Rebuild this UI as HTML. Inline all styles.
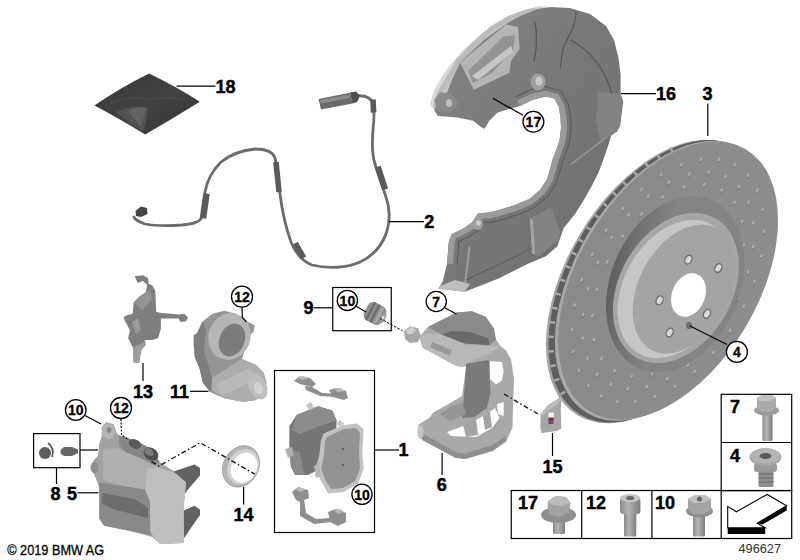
<!DOCTYPE html>
<html><head><meta charset="utf-8">
<style>
html,body{margin:0;padding:0;background:#fff;}
body{width:800px;height:560px;overflow:hidden;}
svg{display:block;}
.lb{font-family:"Liberation Sans",sans-serif;font-weight:bold;font-size:18px;fill:#000;stroke:#000;stroke-width:0.45;}
.cl{font-family:"Liberation Sans",sans-serif;font-weight:bold;font-size:14px;fill:#000;stroke:#000;stroke-width:0.3;}
.ln{stroke:#000;stroke-width:1.2;fill:none;}
.bx{stroke:#000;stroke-width:1.2;fill:none;}
</style></head>
<body>
<svg width="800" height="560" viewBox="0 0 800 560">
<defs>
<linearGradient id="gPack" x1="0" y1="0" x2="1" y2="1">
<stop offset="0" stop-color="#383838"/><stop offset="0.5" stop-color="#424242"/><stop offset="1" stop-color="#343434"/>
</linearGradient>
</defs>
<rect width="800" height="560" fill="#fff"/>

<!-- ===== PART 18 grease pack ===== -->
<g id="p18">
<path d="M94.4,105.6 Q120,88 149,73.6 Q175,86 199.8,101.7 Q172,119 145.2,134.5 Q118,118 94.4,105.6 Z" fill="url(#gPack)"/>
<path d="M116,112 Q133,104 148,108 Q147,122 143,131 Q128,123 116,112 Z" fill="#5a5a5a" opacity="0.75"/>
<path d="M128,110 Q138,106 146,108 Q144,118 141,126 Q134,120 128,110 Z" fill="#6e6e6e" opacity="0.6"/>
<path d="M110,103 Q130,96 150,99 Q170,96 185,100" fill="none" stroke="#4a4a4a" stroke-width="2" opacity="0.8"/>
</g>

<!-- ===== PART 2 wire ===== -->
<g id="p2">
<path d="M356,96 C364,95 370,97 373,103 C375,110 374,120 373,130 C372,142 372,155 375,164 C378,174 382,185 386,197 C390,208 390,220 387,231 C383,244 375,255 360,262 C347,268 328,269 312,265 C302,261 295,252 291,242 C286,228 282,210 280,194 C278,180 277,165 275,158 C273,152 266,149 255,149 C243,150 230,155 221,162 C213,170 207,180 205,192 C203,203 202,212 201,219 C198,223 192,224 182,225 C168,226 155,226 145,224 C139,222 135,220 134,217" fill="none" stroke="#6c6c6c" stroke-width="2.8" stroke-linecap="round"/>
<g fill="#5a5a5a">
<rect x="-2.8" y="-6.5" width="5.6" height="13" transform="translate(373.3 106) rotate(-3)"/>
<rect x="-3" y="-12" width="6" height="24" transform="translate(381.5 178) rotate(-18)"/>
<rect x="-2.8" y="-8.5" width="5.6" height="17" transform="translate(299.5 250.5) rotate(-30)"/>
<rect x="-2.8" y="-15" width="5.6" height="30" transform="translate(277.5 177) rotate(-6)"/>
<rect x="-3" y="-12.5" width="6" height="25" transform="translate(205 206) rotate(8)"/>
</g>
<polygon points="135.5,211 141,206.5 147,208 147.5,214 141,217 136,216" fill="#444"/>
<!-- sensor -->
<polygon points="318.5,99 350,92.8 352.5,103.5 321,109.5" fill="#6a6a6a"/>
<polygon points="320,100 349,94.5 350,98 321,103.5" fill="#8a8a8a"/>
<polygon points="350,92.5 356,91.5 360,96 357,102 352.5,103.5" fill="#4e4e4e"/>
</g>

<!-- ===== PART 16 heat shield ===== -->
<g id="p16">
<defs>
<linearGradient id="gShield" x1="0" y1="0" x2="1" y2="1">
<stop offset="0" stop-color="#858585"/><stop offset="0.5" stop-color="#777"/><stop offset="1" stop-color="#6c6c6c"/>
</linearGradient>
</defs>
<!-- faint film -->
<path d="M430,104 L434,90 L446,70 L462,51 L482,33 L502,20 L520,11 L540,6 L550,7 L530,10 L510,19 L494.3,28.6 L475.7,45.7 L458.6,62.9 L450,78 L441.1,91.8 L436.3,101.5 L434.6,111.1 Z" fill="#dadada"/>
<path d="M433,106 L437,92 L448,74 L456,60 L472,43 L491,26 L508,16 L528,9 L545,6.5 L530,10 L510,19 L494.3,28.6 L475.7,45.7 L458.6,62.9 L450,78 L441.1,91.8 L436.3,101.5 L434.6,111.1 Z" fill="#bcbcbc"/>
<path d="M434.6,111.1 L436.3,101.5 L441.1,91.8 L450,78 L458.6,62.9 L475.7,45.7 L494.3,28.6 L510,19 L530,10 L550,7 L570,8 L590,14 L606,26 L614,40 L618.5,58 L620.6,75 L620.6,93.8 L623.2,101.8 L620.1,125.4 L617.2,131.3 L611.3,135.2 L608.3,145 L604.4,156.8 L598.5,172.6 L591.6,186.3 L583.8,200 L575,214 L563.4,228.4 L557.5,246 L545.8,256.3 L528.1,263.7 L498.6,278.4 L464.8,291.7 L438.3,288.7 L442.7,281.4 L447.1,263.7 L448.6,243.1 L451.5,234.3 L463.3,228.4 L472.1,222.5 L478,213.6 L490,212.3 L500.7,209.6 L516.8,204.3 L529.3,198.9 L540,190 L547.1,179.3 L550.7,166.8 L552.5,159.6 L556,150.7 L559.6,140 L561,128 L560.5,118 L559,107.2 L554.3,98.6 L545.7,96.5 L532.9,99.7 L520,106 L507,109.5 L497.4,112.7 L489.3,120.8 L484.5,128.8 L481.3,127.2 L473.2,120.8 L457.2,117.5 L437.9,115.9 Z" fill="url(#gShield)"/>
<!-- raised block upper-left -->
<path d="M436,104 L441,92 L450,78 L458.6,62.9 L475.7,45.7 L494.3,28.6 L510,19 L530,10 L540,8 L520,16 L506,24 L484,40 L460,62.6 L452,80 L445,98 Z" fill="#c2c2c2"/>
<path d="M460,62.6 L506,24.4 L518,27 L519.6,49 L511,61 L509.4,72.8 L473.8,89.8 Z" fill="#b4b4b4"/>
<path d="M468,71 L503,37 L515,35 L513,50 L492,73 L473,83 Z" fill="#939393"/>
<path d="M472,76 L511,46 L513,52 L478,80 Z" fill="#c6c6c6"/>
<!-- left nub -->
<path d="M434.3,100 L440,92 L452,94 L458,104 L452,111 L438,112 Z" fill="#8a8a8a"/>
<ellipse cx="449" cy="103" rx="3" ry="4" fill="#bdbdbd"/>
<!-- inner flange strip -->
<polygon points="447.1,263.7 448.6,243.1 451.5,234.3 463.3,228.4 472.1,222.5 478.0,213.6 490.0,212.3 500.7,209.6 516.8,204.3 529.3,198.9 540.0,190.0 547.1,179.3 550.7,166.8 552.5,159.6 556.0,150.7 559.6,140.0 561.0,128.0 560.5,118.0 559.0,107.2 554.3,98.6 545.7,96.5 532.9,99.7 520.0,106.0 517.4,100.6 530.8,94.1 545.4,90.5 558.1,93.9 564.7,105.4 566.5,117.4 567.0,128.2 565.5,141.3 561.6,152.7 558.2,161.5 556.5,168.4 552.5,181.8 544.4,194.0 532.4,204.0 518.9,209.9 502.4,215.3 491.0,218.2 481.0,218.8 476.4,226.7 466.3,233.6 455.7,238.5 454.5,244.0 453.1,264.1" fill="#9a9a9a"/>
<polyline points="457.1,264.4 458.5,244.6 458.6,241.4 468.3,237.1 479.2,229.5 483.0,222.3 491.7,222.1 503.6,219.2 520.3,213.7 534.5,207.4 547.4,196.7 556.2,183.5 560.3,169.4 562.0,162.7 565.4,154.1 569.4,142.2 571.0,128.4 570.5,117.0 568.5,104.2 560.6,90.8 545.2,86.5 529.4,90.3 515.6,97.0" fill="none" stroke="#5a5a5a" stroke-width="1.1"/>
<!-- dark separation lines -->
<path d="M535,22 C538,40 536,50 534,62" fill="none" stroke="#555" stroke-width="1.2"/>
<path d="M576,12 C575,30 568,36 564,46 C560,56 562,64 560,68" fill="none" stroke="#555" stroke-width="1.2"/>
<path d="M570,40 C590,50 606,70 612,95" fill="none" stroke="#555" stroke-width="1.1"/>
<!-- right step -->
<path d="M598,92 L620.1,93.9 L622.1,101.8 L620.1,125.4 L617.2,131.3 L611.3,135.2 L600,140 L596,120 Z" fill="#838383"/>
<path d="M570,165 L607,137" stroke="#9a9a9a" stroke-width="1.5" fill="none"/>
<!-- bottom lobe -->
<path d="M529.8,218.8 L550.7,207.1 L560,230.4 L558.8,239.7 L539.1,255.9 L532.2,253.6 Z" fill="#838383"/>
<path d="M529.8,218.8 L532.2,253.6 L535,254.5 L533,220 Z" fill="#a4a4a4"/>
<path d="M469.5,246.6 L464.8,286" fill="none" stroke="#9e9e9e" stroke-width="2"/>
<path d="M466,280 C490,268 515,258 532,248" fill="none" stroke="#5a5a5a" stroke-width="1"/>
<path d="M440,286 L455,280 L470,284 L464.8,291.7 L438.3,288.7 Z" fill="#bdbdbd"/>
<!-- bolt bosses -->
<ellipse cx="538" cy="82" rx="7.5" ry="8.5" fill="#a0a0a0"/>
<ellipse cx="539" cy="81" rx="3.5" ry="4.5" fill="#c8c8c8"/>
<ellipse cx="478" cy="224" rx="5" ry="6" fill="#a0a0a0"/>
<ellipse cx="478.5" cy="223" rx="2.2" ry="2.8" fill="#cfcfcf"/>
</g>

<!-- ===== PART 3 rotor ===== -->
<g id="p3">
<defs>
<radialGradient id="gHat" cx="0.55" cy="0.55" r="0.6">
<stop offset="0" stop-color="#a6a6a6"/><stop offset="0.8" stop-color="#a2a2a2"/><stop offset="1" stop-color="#b0b0b0"/>
</radialGradient>
<linearGradient id="gGroove" gradientUnits="userSpaceOnUse" x1="603" y1="290" x2="660" y2="300">
<stop offset="0" stop-color="#5c5c5c"/><stop offset="0.45" stop-color="#727272"/><stop offset="1" stop-color="#848484"/>
</linearGradient>
<linearGradient id="gFace" x1="0" y1="0" x2="1" y2="1">
<stop offset="0" stop-color="#8a8a8a"/><stop offset="1" stop-color="#8e8e8e"/>
</linearGradient>
</defs>
<!-- back/rim -->
<ellipse cx="657.1" cy="281.5" rx="155.8" ry="90.6" transform="rotate(-59.4 657.1 281.5)" fill="#a4a4a4"/>
<ellipse cx="659.3" cy="281.3" rx="155.1" ry="90.4" transform="rotate(-59.4 659.3 281.3)" fill="#5e5e5e"/>
<g stroke="#a8a8a8" stroke-width="2.5"><line x1="560.7" y1="394.3" x2="565.2" y2="391.7"/><line x1="554.4" y1="380.6" x2="559.3" y2="378.9"/><line x1="550.6" y1="366.2" x2="555.7" y2="365.3"/><line x1="548.8" y1="351.4" x2="554.0" y2="351.1"/><line x1="548.7" y1="336.7" x2="553.9" y2="336.9"/><line x1="550.0" y1="322.1" x2="555.2" y2="322.8"/><line x1="552.4" y1="307.6" x2="557.5" y2="308.7"/><line x1="555.9" y1="293.5" x2="560.9" y2="294.9"/><line x1="560.3" y1="279.5" x2="565.2" y2="281.2"/><line x1="565.6" y1="265.8" x2="570.4" y2="267.8"/><line x1="571.7" y1="252.3" x2="576.4" y2="254.6"/><line x1="578.5" y1="239.3" x2="583.0" y2="241.9"/><line x1="586.0" y1="226.7" x2="590.4" y2="229.5"/><line x1="594.2" y1="214.5" x2="598.4" y2="217.6"/><line x1="603.0" y1="203.0" x2="607.0" y2="206.2"/><line x1="612.4" y1="191.9" x2="616.3" y2="195.4"/><line x1="622.6" y1="181.3" x2="626.2" y2="185.1"/><line x1="633.6" y1="171.4" x2="637.0" y2="175.3"/><line x1="645.1" y1="162.4" x2="648.2" y2="166.6"/><line x1="657.3" y1="154.4" x2="660.0" y2="158.9"/><line x1="670.5" y1="147.4" x2="672.7" y2="152.2"/></g>
<ellipse cx="665.2" cy="280.8" rx="153.6" ry="90.4" transform="rotate(-59.4 665.2 280.8)" fill="#a9a9a9"/>
<!-- face -->
<ellipse cx="668.1" cy="280.5" rx="152.6" ry="90.4" transform="rotate(-59.4 668.1 280.5)" fill="url(#gFace)"/>
<g id="perf"><ellipse cx="722.3" cy="190.8" rx="1.5" ry="2.3" transform="rotate(30 721.7 189.9)" fill="#7e7e7e"/><ellipse cx="721.7" cy="189.9" rx="1.2" ry="2" transform="rotate(30 721.7 189.9)" fill="#adadad"/><ellipse cx="735.3" cy="203.4" rx="1.5" ry="2.3" transform="rotate(30 734.7 202.5)" fill="#7e7e7e"/><ellipse cx="734.7" cy="202.5" rx="1.2" ry="2" transform="rotate(30 734.7 202.5)" fill="#adadad"/><ellipse cx="742.8" cy="222.3" rx="1.5" ry="2.3" transform="rotate(30 742.2 221.4)" fill="#7e7e7e"/><ellipse cx="742.2" cy="221.4" rx="1.2" ry="2" transform="rotate(30 742.2 221.4)" fill="#adadad"/><ellipse cx="744.4" cy="246.0" rx="1.5" ry="2.3" transform="rotate(30 743.8 245.1)" fill="#7e7e7e"/><ellipse cx="743.8" cy="245.1" rx="1.2" ry="2" transform="rotate(30 743.8 245.1)" fill="#adadad"/><ellipse cx="739.8" cy="272.6" rx="1.5" ry="2.3" transform="rotate(30 739.2 271.7)" fill="#7e7e7e"/><ellipse cx="739.2" cy="271.7" rx="1.2" ry="2" transform="rotate(30 739.2 271.7)" fill="#adadad"/><ellipse cx="729.5" cy="299.9" rx="1.5" ry="2.3" transform="rotate(30 728.9 299.0)" fill="#7e7e7e"/><ellipse cx="728.9" cy="299.0" rx="1.2" ry="2" transform="rotate(30 728.9 299.0)" fill="#adadad"/><ellipse cx="714.2" cy="325.7" rx="1.5" ry="2.3" transform="rotate(30 713.6 324.8)" fill="#7e7e7e"/><ellipse cx="713.6" cy="324.8" rx="1.2" ry="2" transform="rotate(30 713.6 324.8)" fill="#adadad"/><ellipse cx="695.3" cy="347.9" rx="1.5" ry="2.3" transform="rotate(30 694.7 347.0)" fill="#7e7e7e"/><ellipse cx="694.7" cy="347.0" rx="1.2" ry="2" transform="rotate(30 694.7 347.0)" fill="#adadad"/><ellipse cx="674.2" cy="364.7" rx="1.5" ry="2.3" transform="rotate(30 673.6 363.8)" fill="#7e7e7e"/><ellipse cx="673.6" cy="363.8" rx="1.2" ry="2" transform="rotate(30 673.6 363.8)" fill="#adadad"/><ellipse cx="652.6" cy="374.8" rx="1.5" ry="2.3" transform="rotate(30 652.0 373.9)" fill="#7e7e7e"/><ellipse cx="652.0" cy="373.9" rx="1.2" ry="2" transform="rotate(30 652.0 373.9)" fill="#adadad"/><ellipse cx="632.4" cy="377.3" rx="1.5" ry="2.3" transform="rotate(30 631.8 376.4)" fill="#7e7e7e"/><ellipse cx="631.8" cy="376.4" rx="1.2" ry="2" transform="rotate(30 631.8 376.4)" fill="#adadad"/><ellipse cx="615.1" cy="372.0" rx="1.5" ry="2.3" transform="rotate(30 614.5 371.1)" fill="#7e7e7e"/><ellipse cx="614.5" cy="371.1" rx="1.2" ry="2" transform="rotate(30 614.5 371.1)" fill="#adadad"/><ellipse cx="602.1" cy="359.4" rx="1.5" ry="2.3" transform="rotate(30 601.5 358.5)" fill="#7e7e7e"/><ellipse cx="601.5" cy="358.5" rx="1.2" ry="2" transform="rotate(30 601.5 358.5)" fill="#adadad"/><ellipse cx="594.6" cy="340.5" rx="1.5" ry="2.3" transform="rotate(30 594.0 339.6)" fill="#7e7e7e"/><ellipse cx="594.0" cy="339.6" rx="1.2" ry="2" transform="rotate(30 594.0 339.6)" fill="#adadad"/><ellipse cx="593.0" cy="316.8" rx="1.5" ry="2.3" transform="rotate(30 592.4 315.9)" fill="#7e7e7e"/><ellipse cx="592.4" cy="315.9" rx="1.2" ry="2" transform="rotate(30 592.4 315.9)" fill="#adadad"/><ellipse cx="597.6" cy="290.2" rx="1.5" ry="2.3" transform="rotate(30 597.0 289.3)" fill="#7e7e7e"/><ellipse cx="597.0" cy="289.3" rx="1.2" ry="2" transform="rotate(30 597.0 289.3)" fill="#adadad"/><ellipse cx="607.9" cy="262.9" rx="1.5" ry="2.3" transform="rotate(30 607.3 262.0)" fill="#7e7e7e"/><ellipse cx="607.3" cy="262.0" rx="1.2" ry="2" transform="rotate(30 607.3 262.0)" fill="#adadad"/><ellipse cx="623.2" cy="237.1" rx="1.5" ry="2.3" transform="rotate(30 622.6 236.2)" fill="#7e7e7e"/><ellipse cx="622.6" cy="236.2" rx="1.2" ry="2" transform="rotate(30 622.6 236.2)" fill="#adadad"/><ellipse cx="642.1" cy="214.9" rx="1.5" ry="2.3" transform="rotate(30 641.5 214.0)" fill="#7e7e7e"/><ellipse cx="641.5" cy="214.0" rx="1.2" ry="2" transform="rotate(30 641.5 214.0)" fill="#adadad"/><ellipse cx="663.2" cy="198.1" rx="1.5" ry="2.3" transform="rotate(30 662.6 197.2)" fill="#7e7e7e"/><ellipse cx="662.6" cy="197.2" rx="1.2" ry="2" transform="rotate(30 662.6 197.2)" fill="#adadad"/><ellipse cx="684.8" cy="188.0" rx="1.5" ry="2.3" transform="rotate(30 684.2 187.1)" fill="#7e7e7e"/><ellipse cx="684.2" cy="187.1" rx="1.2" ry="2" transform="rotate(30 684.2 187.1)" fill="#adadad"/><ellipse cx="705.0" cy="185.5" rx="1.5" ry="2.3" transform="rotate(30 704.4 184.6)" fill="#7e7e7e"/><ellipse cx="704.4" cy="184.6" rx="1.2" ry="2" transform="rotate(30 704.4 184.6)" fill="#adadad"/><ellipse cx="739.7" cy="187.6" rx="1.5" ry="2.3" transform="rotate(30 739.1 186.7)" fill="#7e7e7e"/><ellipse cx="739.1" cy="186.7" rx="1.2" ry="2" transform="rotate(30 739.1 186.7)" fill="#adadad"/><ellipse cx="749.1" cy="203.4" rx="1.5" ry="2.3" transform="rotate(30 748.5 202.5)" fill="#7e7e7e"/><ellipse cx="748.5" cy="202.5" rx="1.2" ry="2" transform="rotate(30 748.5 202.5)" fill="#adadad"/><ellipse cx="753.9" cy="223.8" rx="1.5" ry="2.3" transform="rotate(30 753.3 222.9)" fill="#7e7e7e"/><ellipse cx="753.3" cy="222.9" rx="1.2" ry="2" transform="rotate(30 753.3 222.9)" fill="#adadad"/><ellipse cx="753.7" cy="247.5" rx="1.5" ry="2.3" transform="rotate(30 753.1 246.6)" fill="#7e7e7e"/><ellipse cx="753.1" cy="246.6" rx="1.2" ry="2" transform="rotate(30 753.1 246.6)" fill="#adadad"/><ellipse cx="748.6" cy="273.1" rx="1.5" ry="2.3" transform="rotate(30 748.0 272.2)" fill="#7e7e7e"/><ellipse cx="748.0" cy="272.2" rx="1.2" ry="2" transform="rotate(30 748.0 272.2)" fill="#adadad"/><ellipse cx="738.9" cy="299.3" rx="1.5" ry="2.3" transform="rotate(30 738.3 298.4)" fill="#7e7e7e"/><ellipse cx="738.3" cy="298.4" rx="1.2" ry="2" transform="rotate(30 738.3 298.4)" fill="#adadad"/><ellipse cx="725.0" cy="324.4" rx="1.5" ry="2.3" transform="rotate(30 724.4 323.5)" fill="#7e7e7e"/><ellipse cx="724.4" cy="323.5" rx="1.2" ry="2" transform="rotate(30 724.4 323.5)" fill="#adadad"/><ellipse cx="707.9" cy="347.0" rx="1.5" ry="2.3" transform="rotate(30 707.3 346.1)" fill="#7e7e7e"/><ellipse cx="707.3" cy="346.1" rx="1.2" ry="2" transform="rotate(30 707.3 346.1)" fill="#adadad"/><ellipse cx="688.5" cy="365.8" rx="1.5" ry="2.3" transform="rotate(30 687.9 364.9)" fill="#7e7e7e"/><ellipse cx="687.9" cy="364.9" rx="1.2" ry="2" transform="rotate(30 687.9 364.9)" fill="#adadad"/><ellipse cx="668.0" cy="379.7" rx="1.5" ry="2.3" transform="rotate(30 667.4 378.8)" fill="#7e7e7e"/><ellipse cx="667.4" cy="378.8" rx="1.2" ry="2" transform="rotate(30 667.4 378.8)" fill="#adadad"/><ellipse cx="647.4" cy="387.9" rx="1.5" ry="2.3" transform="rotate(30 646.8 387.0)" fill="#7e7e7e"/><ellipse cx="646.8" cy="387.0" rx="1.2" ry="2" transform="rotate(30 646.8 387.0)" fill="#adadad"/><ellipse cx="628.2" cy="389.9" rx="1.5" ry="2.3" transform="rotate(30 627.6 389.0)" fill="#7e7e7e"/><ellipse cx="627.6" cy="389.0" rx="1.2" ry="2" transform="rotate(30 627.6 389.0)" fill="#adadad"/><ellipse cx="611.3" cy="385.5" rx="1.5" ry="2.3" transform="rotate(30 610.7 384.6)" fill="#7e7e7e"/><ellipse cx="610.7" cy="384.6" rx="1.2" ry="2" transform="rotate(30 610.7 384.6)" fill="#adadad"/><ellipse cx="597.7" cy="375.2" rx="1.5" ry="2.3" transform="rotate(30 597.1 374.3)" fill="#7e7e7e"/><ellipse cx="597.1" cy="374.3" rx="1.2" ry="2" transform="rotate(30 597.1 374.3)" fill="#adadad"/><ellipse cx="588.3" cy="359.4" rx="1.5" ry="2.3" transform="rotate(30 587.7 358.5)" fill="#7e7e7e"/><ellipse cx="587.7" cy="358.5" rx="1.2" ry="2" transform="rotate(30 587.7 358.5)" fill="#adadad"/><ellipse cx="583.5" cy="339.0" rx="1.5" ry="2.3" transform="rotate(30 582.9 338.1)" fill="#7e7e7e"/><ellipse cx="582.9" cy="338.1" rx="1.2" ry="2" transform="rotate(30 582.9 338.1)" fill="#adadad"/><ellipse cx="583.7" cy="315.3" rx="1.5" ry="2.3" transform="rotate(30 583.1 314.4)" fill="#7e7e7e"/><ellipse cx="583.1" cy="314.4" rx="1.2" ry="2" transform="rotate(30 583.1 314.4)" fill="#adadad"/><ellipse cx="588.8" cy="289.7" rx="1.5" ry="2.3" transform="rotate(30 588.2 288.8)" fill="#7e7e7e"/><ellipse cx="588.2" cy="288.8" rx="1.2" ry="2" transform="rotate(30 588.2 288.8)" fill="#adadad"/><ellipse cx="598.5" cy="263.5" rx="1.5" ry="2.3" transform="rotate(30 597.9 262.6)" fill="#7e7e7e"/><ellipse cx="597.9" cy="262.6" rx="1.2" ry="2" transform="rotate(30 597.9 262.6)" fill="#adadad"/><ellipse cx="612.4" cy="238.4" rx="1.5" ry="2.3" transform="rotate(30 611.8 237.5)" fill="#7e7e7e"/><ellipse cx="611.8" cy="237.5" rx="1.2" ry="2" transform="rotate(30 611.8 237.5)" fill="#adadad"/><ellipse cx="629.5" cy="215.8" rx="1.5" ry="2.3" transform="rotate(30 628.9 214.9)" fill="#7e7e7e"/><ellipse cx="628.9" cy="214.9" rx="1.2" ry="2" transform="rotate(30 628.9 214.9)" fill="#adadad"/><ellipse cx="648.9" cy="197.0" rx="1.5" ry="2.3" transform="rotate(30 648.3 196.1)" fill="#7e7e7e"/><ellipse cx="648.3" cy="196.1" rx="1.2" ry="2" transform="rotate(30 648.3 196.1)" fill="#adadad"/><ellipse cx="669.4" cy="183.1" rx="1.5" ry="2.3" transform="rotate(30 668.8 182.2)" fill="#7e7e7e"/><ellipse cx="668.8" cy="182.2" rx="1.2" ry="2" transform="rotate(30 668.8 182.2)" fill="#adadad"/><ellipse cx="690.0" cy="174.9" rx="1.5" ry="2.3" transform="rotate(30 689.4 174.0)" fill="#7e7e7e"/><ellipse cx="689.4" cy="174.0" rx="1.2" ry="2" transform="rotate(30 689.4 174.0)" fill="#adadad"/><ellipse cx="709.2" cy="172.9" rx="1.5" ry="2.3" transform="rotate(30 708.6 172.0)" fill="#7e7e7e"/><ellipse cx="708.6" cy="172.0" rx="1.2" ry="2" transform="rotate(30 708.6 172.0)" fill="#adadad"/><ellipse cx="726.1" cy="177.3" rx="1.5" ry="2.3" transform="rotate(30 725.5 176.4)" fill="#7e7e7e"/><ellipse cx="725.5" cy="176.4" rx="1.2" ry="2" transform="rotate(30 725.5 176.4)" fill="#adadad"/><ellipse cx="748.4" cy="176.3" rx="1.5" ry="2.3" transform="rotate(30 747.8 175.4)" fill="#7e7e7e"/><ellipse cx="747.8" cy="175.4" rx="1.2" ry="2" transform="rotate(30 747.8 175.4)" fill="#adadad"/><ellipse cx="757.9" cy="191.4" rx="1.5" ry="2.3" transform="rotate(30 757.3 190.5)" fill="#7e7e7e"/><ellipse cx="757.3" cy="190.5" rx="1.2" ry="2" transform="rotate(30 757.3 190.5)" fill="#adadad"/><ellipse cx="763.4" cy="210.4" rx="1.5" ry="2.3" transform="rotate(30 762.8 209.5)" fill="#7e7e7e"/><ellipse cx="762.8" cy="209.5" rx="1.2" ry="2" transform="rotate(30 762.8 209.5)" fill="#adadad"/><ellipse cx="764.8" cy="232.5" rx="1.5" ry="2.3" transform="rotate(30 764.2 231.6)" fill="#7e7e7e"/><ellipse cx="764.2" cy="231.6" rx="1.2" ry="2" transform="rotate(30 764.2 231.6)" fill="#adadad"/><ellipse cx="762.1" cy="256.8" rx="1.5" ry="2.3" transform="rotate(30 761.5 255.9)" fill="#7e7e7e"/><ellipse cx="761.5" cy="255.9" rx="1.2" ry="2" transform="rotate(30 761.5 255.9)" fill="#adadad"/><ellipse cx="755.2" cy="282.1" rx="1.5" ry="2.3" transform="rotate(30 754.6 281.2)" fill="#7e7e7e"/><ellipse cx="754.6" cy="281.2" rx="1.2" ry="2" transform="rotate(30 754.6 281.2)" fill="#adadad"/><ellipse cx="744.5" cy="307.4" rx="1.5" ry="2.3" transform="rotate(30 743.9 306.5)" fill="#7e7e7e"/><ellipse cx="743.9" cy="306.5" rx="1.2" ry="2" transform="rotate(30 743.9 306.5)" fill="#adadad"/><ellipse cx="730.6" cy="331.6" rx="1.5" ry="2.3" transform="rotate(30 730.0 330.7)" fill="#7e7e7e"/><ellipse cx="730.0" cy="330.7" rx="1.2" ry="2" transform="rotate(30 730.0 330.7)" fill="#adadad"/><ellipse cx="713.9" cy="353.5" rx="1.5" ry="2.3" transform="rotate(30 713.3 352.6)" fill="#7e7e7e"/><ellipse cx="713.3" cy="352.6" rx="1.2" ry="2" transform="rotate(30 713.3 352.6)" fill="#adadad"/><ellipse cx="695.3" cy="372.4" rx="1.5" ry="2.3" transform="rotate(30 694.7 371.5)" fill="#7e7e7e"/><ellipse cx="694.7" cy="371.5" rx="1.2" ry="2" transform="rotate(30 694.7 371.5)" fill="#adadad"/><ellipse cx="675.5" cy="387.2" rx="1.5" ry="2.3" transform="rotate(30 674.9 386.3)" fill="#7e7e7e"/><ellipse cx="674.9" cy="386.3" rx="1.2" ry="2" transform="rotate(30 674.9 386.3)" fill="#adadad"/><ellipse cx="655.4" cy="397.4" rx="1.5" ry="2.3" transform="rotate(30 654.8 396.5)" fill="#7e7e7e"/><ellipse cx="654.8" cy="396.5" rx="1.2" ry="2" transform="rotate(30 654.8 396.5)" fill="#adadad"/><ellipse cx="635.8" cy="402.6" rx="1.5" ry="2.3" transform="rotate(30 635.2 401.7)" fill="#7e7e7e"/><ellipse cx="635.2" cy="401.7" rx="1.2" ry="2" transform="rotate(30 635.2 401.7)" fill="#adadad"/><ellipse cx="617.8" cy="402.4" rx="1.5" ry="2.3" transform="rotate(30 617.2 401.5)" fill="#7e7e7e"/><ellipse cx="617.2" cy="401.5" rx="1.2" ry="2" transform="rotate(30 617.2 401.5)" fill="#adadad"/><ellipse cx="601.9" cy="397.0" rx="1.5" ry="2.3" transform="rotate(30 601.3 396.1)" fill="#7e7e7e"/><ellipse cx="601.3" cy="396.1" rx="1.2" ry="2" transform="rotate(30 601.3 396.1)" fill="#adadad"/><ellipse cx="589.0" cy="386.5" rx="1.5" ry="2.3" transform="rotate(30 588.4 385.6)" fill="#7e7e7e"/><ellipse cx="588.4" cy="385.6" rx="1.2" ry="2" transform="rotate(30 588.4 385.6)" fill="#adadad"/><ellipse cx="579.5" cy="371.4" rx="1.5" ry="2.3" transform="rotate(30 578.9 370.5)" fill="#7e7e7e"/><ellipse cx="578.9" cy="370.5" rx="1.2" ry="2" transform="rotate(30 578.9 370.5)" fill="#adadad"/><ellipse cx="574.0" cy="352.4" rx="1.5" ry="2.3" transform="rotate(30 573.4 351.5)" fill="#7e7e7e"/><ellipse cx="573.4" cy="351.5" rx="1.2" ry="2" transform="rotate(30 573.4 351.5)" fill="#adadad"/><ellipse cx="572.6" cy="330.3" rx="1.5" ry="2.3" transform="rotate(30 572.0 329.4)" fill="#7e7e7e"/><ellipse cx="572.0" cy="329.4" rx="1.2" ry="2" transform="rotate(30 572.0 329.4)" fill="#adadad"/><ellipse cx="575.3" cy="306.0" rx="1.5" ry="2.3" transform="rotate(30 574.7 305.1)" fill="#7e7e7e"/><ellipse cx="574.7" cy="305.1" rx="1.2" ry="2" transform="rotate(30 574.7 305.1)" fill="#adadad"/><ellipse cx="582.2" cy="280.7" rx="1.5" ry="2.3" transform="rotate(30 581.6 279.8)" fill="#7e7e7e"/><ellipse cx="581.6" cy="279.8" rx="1.2" ry="2" transform="rotate(30 581.6 279.8)" fill="#adadad"/><ellipse cx="592.9" cy="255.4" rx="1.5" ry="2.3" transform="rotate(30 592.3 254.5)" fill="#7e7e7e"/><ellipse cx="592.3" cy="254.5" rx="1.2" ry="2" transform="rotate(30 592.3 254.5)" fill="#adadad"/><ellipse cx="606.8" cy="231.2" rx="1.5" ry="2.3" transform="rotate(30 606.2 230.3)" fill="#7e7e7e"/><ellipse cx="606.2" cy="230.3" rx="1.2" ry="2" transform="rotate(30 606.2 230.3)" fill="#adadad"/><ellipse cx="623.5" cy="209.3" rx="1.5" ry="2.3" transform="rotate(30 622.9 208.4)" fill="#7e7e7e"/><ellipse cx="622.9" cy="208.4" rx="1.2" ry="2" transform="rotate(30 622.9 208.4)" fill="#adadad"/><ellipse cx="642.1" cy="190.4" rx="1.5" ry="2.3" transform="rotate(30 641.5 189.5)" fill="#7e7e7e"/><ellipse cx="641.5" cy="189.5" rx="1.2" ry="2" transform="rotate(30 641.5 189.5)" fill="#adadad"/><ellipse cx="661.9" cy="175.6" rx="1.5" ry="2.3" transform="rotate(30 661.3 174.7)" fill="#7e7e7e"/><ellipse cx="661.3" cy="174.7" rx="1.2" ry="2" transform="rotate(30 661.3 174.7)" fill="#adadad"/><ellipse cx="682.0" cy="165.4" rx="1.5" ry="2.3" transform="rotate(30 681.4 164.5)" fill="#7e7e7e"/><ellipse cx="681.4" cy="164.5" rx="1.2" ry="2" transform="rotate(30 681.4 164.5)" fill="#adadad"/><ellipse cx="701.6" cy="160.2" rx="1.5" ry="2.3" transform="rotate(30 701.0 159.3)" fill="#7e7e7e"/><ellipse cx="701.0" cy="159.3" rx="1.2" ry="2" transform="rotate(30 701.0 159.3)" fill="#adadad"/><ellipse cx="719.6" cy="160.4" rx="1.5" ry="2.3" transform="rotate(30 719.0 159.5)" fill="#7e7e7e"/><ellipse cx="719.0" cy="159.5" rx="1.2" ry="2" transform="rotate(30 719.0 159.5)" fill="#adadad"/><ellipse cx="735.5" cy="165.8" rx="1.5" ry="2.3" transform="rotate(30 734.9 164.9)" fill="#7e7e7e"/><ellipse cx="734.9" cy="164.9" rx="1.2" ry="2" transform="rotate(30 734.9 164.9)" fill="#adadad"/></g>
<!-- groove ring -->
<path d="M711.1,199.9 L716.2,202.5 L720.9,205.6 L725.2,209.3 L729.2,213.7 L732.8,218.5 L735.9,223.8 L738.6,229.7 L740.7,235.9 L742.4,242.5 L743.6,249.4 L744.3,256.5 L744.4,263.9 L744.0,271.5 L743.1,279.1 L741.6,286.8 L739.7,294.4 L737.3,302.0 L734.3,309.4 L731.0,316.7 L727.2,323.7 L723.0,330.4 L718.5,336.7 L713.6,342.7 L708.5,348.2 L703.0,353.2 L697.4,357.7 L691.6,361.6 L685.7,365.0 L679.7,367.7 L673.6,369.8 L667.6,371.2 L661.7,372.0 L655.8,372.1 L650.1,371.6 L644.6,370.3 L639.3,368.5 L634.2,365.9 L629.5,362.8 L625.2,359.1 L621.2,354.7 L617.6,349.9 L614.5,344.6 L611.8,338.7 L609.7,332.5 L608.0,325.9 L606.8,319.0 L606.1,311.9 L606.0,304.5 L606.4,296.9 L607.3,289.3 L608.8,281.6 L610.7,274.0 L613.1,266.4 L616.1,259.0 L619.4,251.7 L623.2,244.7 L627.4,238.0 L631.9,231.7 L636.8,225.7 L641.9,220.2 L647.4,215.2 L653.0,210.7 L658.8,206.8 L664.7,203.4 L670.7,200.7 L676.8,198.6 L682.8,197.2 L688.7,196.4 L694.6,196.3 L700.3,196.8 L705.8,198.1Z" fill="url(#gGroove)"/>
<!-- hat -->
<ellipse cx="675.9" cy="288" rx="80.1" ry="56.4" transform="rotate(-60.5 675.9 288)" fill="#a6a6a6"/>
<ellipse cx="675" cy="289" rx="74" ry="51" transform="rotate(-60.5 675 289)" fill="#c6c6c6"/>
<ellipse cx="684" cy="289" rx="69" ry="45" transform="rotate(-62 684 289)" fill="#a4a4a4"/>
<!-- center hole -->
<ellipse cx="688.5" cy="295" rx="22.5" ry="16.5" transform="rotate(-68 688.5 295)" fill="#fff"/>
<g fill="#d8d8d8" stroke="#6a6a6a" stroke-width="1.3">
<ellipse cx="688.4" cy="259.6" rx="3.3" ry="4.6" transform="rotate(25 688.4 259.6)"/>
<ellipse cx="718.3" cy="268" rx="3.3" ry="4.6" transform="rotate(25 718.3 268)"/>
<ellipse cx="659.6" cy="300.3" rx="3.3" ry="4.6" transform="rotate(25 659.6 300.3)"/>
<ellipse cx="707" cy="313.9" rx="3.3" ry="4.6" transform="rotate(25 707 313.9)"/>
<ellipse cx="669.7" cy="332.5" rx="3.3" ry="4.6" transform="rotate(25 669.7 332.5)"/>
</g>
<ellipse cx="689" cy="325.5" rx="3" ry="3.6" fill="#6a6a6a"/>
</g>

<!-- ===== PART 5 caliper ===== -->
<g id="p5">
<!-- fingers (dark) -->
<polygon points="172,472 194.4,464.4 200,468.1 200,475.6 186.9,490.7 183.2,496.3" fill="#626262"/>
<polygon points="182.2,511.3 194.4,505.7 200,509.4 200,515 190.7,528.2 183.2,539.4" fill="#626262"/>
<!-- body silhouette -->
<path d="M101.7,426.9 L106.5,422 L113.8,424.5 L116.2,431.7 L118.6,435.3 L137.9,441.4 L152.4,449.8 L159.6,461.9 L174.1,471.5 L186.1,482.4 L183.7,506.5 L184,543 L160,544 L152.4,537 L128.2,530.6 L104.1,525.8 L99.3,518.5 L99.3,487.2 L94.5,475.1 L90.9,467.9 L93.3,460.7 L98.1,455.8 L99.3,443.8 L101.7,436.5 Z" fill="#a2a2a2"/>
<!-- dark top -->
<polygon points="118.6,435.3 137.9,441.4 152.4,449.8 159.6,461.9 154.8,465.5 140.3,458.2 125.8,452.2 119.8,446.2" fill="#858585"/>
<ellipse cx="135" cy="444" rx="6.5" ry="4.5" transform="rotate(25 135 444)" fill="#5a5a5a"/>
<ellipse cx="151" cy="454" rx="8" ry="6" transform="rotate(35 151 454)" fill="#505050"/>
<ellipse cx="149" cy="452" rx="5" ry="3.5" transform="rotate(35 149 452)" fill="#7a7a7a"/>
<!-- upper surface -->
<polygon points="102.9,448.6 118.6,448.6 125.8,452.2 140.3,458.2 154.8,465.5 164.4,470.3 174.1,476.3 152.4,482.4 147.5,489.6 128.2,487.2 102.9,480" fill="#afafaf"/>
<!-- right face lightest -->
<polygon points="147.5,467.9 160,468 174.1,472.7 186.1,482.4 183.7,506.5 184,543 160,544 150.5,533 149.9,501.7 145.1,489.6" fill="#bfbfbf"/>
<!-- lower-left face -->
<polygon points="99.3,482.4 145.1,489.6 149.9,501.7 149.9,530.6 152.4,535.4 128.2,530.6 104.1,525.8 99.3,518.5" fill="#898989"/>
<polygon points="102,493 135,499 148,508 148,518 113,509 102,504" fill="#6c6c6c"/>
<!-- ear -->
<ellipse cx="108.5" cy="431" rx="6.5" ry="8" fill="#b4b4b4"/>
<ellipse cx="109" cy="430" rx="2.5" ry="3" fill="#8a8a8a"/>
<ellipse cx="94.5" cy="467.5" rx="4" ry="5.5" fill="#8e8e8e"/>
</g>

<!-- ===== PART 6 carrier ===== -->
<g id="p6">
<!-- silhouette -->
<path d="M419.6,336.6 L427.9,327 L456.7,312.6 L471.9,311.2 L485.6,316.7 L493.9,328.4 L495.9,339.4 L500.7,346.2 L506.2,350.4 L511.2,360 L514,378.7 L513,406.9 L512.5,427.5 L506.25,441.25 L492.5,450.9 L465,459.1 L455.4,457.7 L422.4,439.9 L418,434 L418.25,424.75 L429.25,417.9 L433.4,412.4 L448.5,404.1 L462,396 L466.2,366 L462.2,366.9 L455.4,365.5 L422.4,347.6 Z" fill="#a9a9a9"/>
<!-- back plate -->
<path d="M427.9,327 L456.7,312.6 L471.9,311.2 L485.6,316.7 L493.9,328.4 L495.9,339.4 L489.7,344.9 L465,343.5 L441.6,334.6 Z" fill="#8a8a8a"/>
<path d="M441.6,334.6 L465,343.5 L489.7,344.9 L488,338 L470,332 L452,331 Z" fill="#6a6a6a"/>
<!-- front bar highlight -->
<path d="M419.6,336.6 L425.1,333.2 L440.2,333.9 L465,344.9 L492.5,346.2 L500.7,346.2 L492,352 L467.7,362.8 L462.2,366.9 L455.4,365.5 L422.4,347.6 Z" fill="#b9b9b9"/>
<path d="M432,342 L452,350 L450,356 L430,347 Z" fill="#999"/>
<!-- dark back column -->
<path d="M466.2,363.7 L488.7,360 L490.6,391.9 L487,408 L474,417 L462,418 L464.3,391.9 Z" fill="#7a7a7a"/>
<path d="M440,414 L452,406 L462,402 L466,414 L450,421 Z" fill="#959595"/>
<!-- right column window -->
<path d="M490,361 L501.8,361.9 L503.7,371.2 L501.8,380.6 L496.2,384.4 L490,379 Z" fill="#fff"/>
<!-- lower window -->
<path d="M447,432 L466,425 L487,414 L495,408 L499.5,418 L492,428 L476,437 L451,436 Z" fill="#fff"/>
<path d="M463,425 L476,419 L478,435 L466,437 Z" fill="#a4a4a4"/>
<path d="M483,416 L490,412 L492,427 L485,430 Z" fill="#a4a4a4"/>
<path d="M497,404 L503.7,402 L503.7,416 L498,414 Z" fill="#fff"/>
<!-- lower arm highlight -->
<path d="M420,432 L455.4,452 L465,453.5 L492.5,445 L506,436 L506.25,441.25 L492.5,450.9 L465,459.1 L455.4,457.7 L422.4,439.9 Z" fill="#8f8f8f"/>
<ellipse cx="420.5" cy="432" rx="3.2" ry="7" fill="#c4c4c4"/>
<!-- bolt/pin on left -->
<polygon points="404,331 410,326.5 418,328 421,336 418,342 410,343 405,339" fill="#a8a8a8"/>
<polygon points="406,330 412,327 416,330 412,334 407,334" fill="#cfcfcf"/>
</g>

<!-- ===== PART 15 clip ===== -->
<g id="p15">
<polygon points="540.7,414.1 547.9,405.2 556.8,399.8 560.4,397.1 561.7,398.9 560.8,407.9 561.25,428.4 556.8,431.1 541.6,432.9 540.3,427.5" fill="#a6a6a6"/>
<polygon points="540.7,414.1 547.9,405.2 556.8,399.8 560.4,397.1 561.7,398.9 558,404 548,410 543,416" fill="#bdbdbd"/>
<rect x="548.5" y="412.5" width="5.5" height="4.5" fill="#f4f4f4"/>
<rect x="548.5" y="418" width="5" height="3.5" fill="#8a2a3a"/>
<rect x="548.5" y="421.5" width="5" height="2.5" fill="#4a5a9a"/>
</g>

<!-- ===== PART 1 pads ===== -->
<g id="p1">
<!-- top clip -->
<g fill="#8e8e8e">
<polygon points="294,381 299,376.5 310,378 316,384 312,387 300,384"/>
<polygon points="305,386 312,387 322,393 336,394 335,397 320,396 306,390"/>
<polygon points="329,390 336,388 346,391 348,398 344,400 333,397"/>
</g>
<g fill="#b8b8b8">
<polygon points="297,378 303,376 309,378 303,380"/>
<polygon points="334,389 340,388 345,391 338,392"/>
</g>
<!-- back pad -->
<path d="M296.6,414.9 L318,406.3 L332.3,410.6 L336.6,420.6 L336,440 L332,455 L318,470 L308,474.9 L295.1,474.9 L290.9,466.3 L289.4,449.1 L289.4,426.3 Z" fill="#767676"/>
<path d="M296.6,414.9 L318,406.3 L332.3,410.6 L336.6,420.6 L320,426 L300,434 L292,430 Z" fill="#8c8c8c"/>
<path d="M289.4,449 L300,452 L304,474.9 L295.1,474.9 L290.9,466.3 Z" fill="#8a8a8a"/>
<polygon points="306,405 311,402 314,408 309,410" fill="#c4c4c4"/>
<polygon points="285,449 292,447 294,455 288,458" fill="#b0b0b0"/>
<!-- front pad -->
<path d="M323.7,433.4 L343.7,424.9 L356.6,423.4 L363.7,429.1 L362.3,452 L363.7,469.1 L358,483.4 L343.7,492 L328,493.4 L320.9,480.6 L315.1,469.1 L319.4,454.9 L320.9,440.6 Z" fill="#c2c2c2"/>
<path d="M327,437 L344,429 L356,428 L360,433 L359,452 L360,469 L355,481 L343,488 L331,489 L325,479 L321,469 L324,455 L325,441 Z" fill="#939393"/>
<circle cx="343" cy="449" r="1.3" fill="#666"/>
<circle cx="343" cy="465" r="1.3" fill="#666"/>
<polygon points="336,424 340,420 344,423 342,428" fill="#c8c8c8"/>
<polygon points="314,466 319,463 321,476 316,478" fill="#b8b8b8"/>
<!-- bottom clip -->
<g fill="#8e8e8e">
<polygon points="292,492 298,487 308,490 309,498 300,502 296,500"/>
<polygon points="300,500 304,499 306,513 316,519 330,518 331,522 314,524 300,516"/>
<polygon points="328,512 336,509 346,513 346,522 338,526 330,522"/>
</g>
<g fill="#b8b8b8">
<polygon points="295,489 300,487 306,490 300,492"/>
<polygon points="334,510 340,509 344,512 338,514"/>
</g>
</g>

<!-- ===== PART 9 bushing ===== -->
<g id="p9">
<g transform="rotate(28 375 313.5)">
<rect x="365" y="303.5" width="20" height="20" rx="6" fill="#8c8c8c"/>
<rect x="369" y="303.5" width="2" height="20" fill="#6a6a6a"/>
<rect x="374" y="303.5" width="2" height="20" fill="#6a6a6a"/>
<rect x="378" y="305" width="3" height="17" fill="#a6a6a6"/>
<ellipse cx="384" cy="313.5" rx="2.5" ry="6" fill="#9a9a9a"/>
<ellipse cx="384" cy="313.5" rx="1.2" ry="2.5" fill="#ddd"/>
</g>
</g>

<!-- ===== PART 13 bracket ===== -->
<g id="p13">
<path d="M134.7,276.2 L143.1,275.3 L147.8,278.1 L148.7,283.7 L152.5,285.6 L155.3,291.2 L156.2,311.8 L159.9,312.8 L178.7,314.6 L184.3,313.7 L188,317.4 L186.2,321.2 L180.5,322.1 L178.7,318.4 L160.9,318.4 L160.9,328.7 L158.1,338 L152.5,339.9 L145,340 L143.1,343.7 L140.3,354.9 L139.3,362.4 L133.7,362.4 L132.8,347.4 L128.1,338 L130,330.5 L123.4,317.4 L126.2,315.6 L132.8,313.7 L133.7,302.5 L139.3,296.8 L146,292 L147,285 L143.1,280.9 L137.5,282.8 Z" fill="#7e7e7e"/>
<polygon points="132.8,347.4 143,343 145,340 146,345 141,350 140.3,354.9 139.3,362.4 133.7,362.4" fill="#9c9c9c"/>
<polygon points="132,322 138,318 141,330 136,334" fill="#9a9a9a"/>
<polygon points="133.7,302.5 139.3,296.8 150.6,289.3 152,300 142,310" fill="#939393"/>
</g>

<!-- ===== PART 11 motor ===== -->
<g id="p11">
<path d="M196.8,333.4 L202.7,321.6 L212.5,313.7 L224.3,310.8 L236,313.7 L243.9,321.6 L249.8,322.6 L254.7,325.5 L253.7,331.4 L247.8,337.3 L243.9,353 L241.9,358.9 L255.7,364.8 L263.5,372.6 L266.5,382.4 L263.5,394.2 L255.7,400.1 L243.9,402.1 L224.3,398.2 L210.5,392.3 L202.7,382.4 L199.7,368.7 L194.8,356.9 L193.8,345.2 L193.8,335.3 Z" fill="#959595"/>
<!-- flange rim -->
<ellipse cx="229.5" cy="336.5" rx="21" ry="23.5" transform="rotate(20 229.5 336.5)" fill="#b6b6b6"/>
<ellipse cx="232" cy="340" rx="12.5" ry="17" transform="rotate(22 232 340)" fill="#7c7c7c"/>
<!-- motor cylinder -->
<path d="M212,378 L241.9,358.9 L255.7,364.8 L263.5,372.6 L266.5,382.4 L263.5,394.2 L255.7,400.1 L243.9,402.1 L224.3,398.2 L212,390 Z" fill="#adadad"/>
<path d="M215,385 L250,368 L258,378 L222,396 Z" fill="#bdbdbd" opacity="0.7"/>
<ellipse cx="257.6" cy="386.4" rx="8.8" ry="13.7" transform="rotate(-25 257.6 386.4)" fill="#bdbdbd"/>
<ellipse cx="258.5" cy="388" rx="4.5" ry="6" transform="rotate(-25 258.5 388)" fill="#d2d2d2"/>
<!-- left darker -->
<path d="M193.8,335.3 L196.8,333.4 L202.7,321.6 L206,330 L204,350 L212,378 L210.5,392.3 L202.7,382.4 L199.7,368.7 L194.8,356.9 L193.8,345.2 Z" fill="#7e7e7e"/>
</g>

<!-- ===== PART 14 seal ===== -->
<g id="p14">
<ellipse cx="241" cy="466.4" rx="17.5" ry="21.5" transform="rotate(28 241 466.4)" fill="#b4b4b4" stroke="#9a9a9a" stroke-width="0.8"/>
<ellipse cx="243" cy="466.8" rx="15" ry="18.5" transform="rotate(28 243 466.8)" fill="#d2d2d2"/>
<ellipse cx="244" cy="467.6" rx="12.6" ry="15.6" transform="rotate(28 244 467.6)" fill="#fff"/>
</g>
<!-- ===== bolts ===== -->
<g id="bolts">
<defs>
<linearGradient id="gBolt" x1="0" y1="0" x2="1" y2="0">
<stop offset="0" stop-color="#8a8a8a"/><stop offset="0.4" stop-color="#b4b4b4"/><stop offset="1" stop-color="#7e7e7e"/>
</linearGradient>
</defs>
<!-- 7 -->
<rect x="762.5" y="413" width="10" height="28" rx="1.5" fill="url(#gBolt)"/>
<ellipse cx="766.5" cy="410.5" rx="12.5" ry="5" fill="#9a9a9a"/>
<polygon points="757,398 762,395 772,395 776,398 776,408 770,412 762,412 757,408" fill="#aaa"/>
<polygon points="762,395 772,395 776,398 770,401 760,401 757,398" fill="#c0c0c0"/>
<!-- 4 -->
<rect x="758.5" y="470" width="15" height="17" rx="1.5" fill="#8e8e8e"/>
<g stroke="#6a6a6a" stroke-width="1"><line x1="758.5" y1="474" x2="773.5" y2="474"/><line x1="758.5" y1="478" x2="773.5" y2="478"/><line x1="758.5" y1="482" x2="773.5" y2="482"/></g>
<rect x="754" y="463" width="23" height="9" rx="3" fill="#9a9a9a"/>
<ellipse cx="765.5" cy="457" rx="16" ry="9" fill="#a6a6a6"/>
<ellipse cx="765.5" cy="456" rx="15" ry="7.5" fill="#b4b4b4"/>
<ellipse cx="765.5" cy="456" rx="6" ry="3" fill="#5a5a5a"/>
<!-- 17 -->
<rect x="553" y="519" width="12" height="15" rx="1.5" fill="url(#gBolt)"/>
<ellipse cx="558.5" cy="515" rx="17.5" ry="8" fill="#8e8e8e"/>
<polygon points="548,501 556,496 566,497 570.5,503 569,513 560,517 550,515 547.6,508" fill="#a2a2a2"/>
<polygon points="548,501 556,496 566,497 570.5,503 562,506 552,505" fill="#bababa"/>
<!-- 12 -->
<rect x="624" y="512" width="12.3" height="24.4" rx="1.5" fill="url(#gBolt)"/>
<rect x="620" y="498" width="20.4" height="16" rx="3" fill="url(#gBolt)"/>
<ellipse cx="630.2" cy="498" rx="10.2" ry="4" fill="#c4c4c4"/>
<ellipse cx="630.2" cy="498" rx="4" ry="2" fill="#666"/>
<!-- 10 -->
<rect x="693" y="515" width="12" height="21.4" rx="1.5" fill="url(#gBolt)"/>
<ellipse cx="699.5" cy="511" rx="13.5" ry="6.5" fill="#8e8e8e"/>
<polygon points="688,499 695,495 705,495 711,499 711,510 704,514 694,514 688,510" fill="#a4a4a4"/>
<polygon points="688,499 695,495 705,495 711,499 704,503 694,503" fill="#c0c0c0"/>
<circle cx="699.5" cy="499" r="2.5" fill="#666"/>
</g>
<!-- box 8 items -->
<g id="p8">
<circle cx="45" cy="453" r="6" fill="#5c5c5c"/>
<path d="M48,443 C52,446 54,451 52,457" fill="none" stroke="#555" stroke-width="1.6"/>
<polygon points="60.5,450 64,447 72,447 78,449.5 78,453 72,456 64,456 60.5,453.5" fill="#666"/>
</g>

<!-- ===== LABELS & LEADERS ===== -->
<g id="labels">
<line class="ln" x1="176.5" y1="86.2" x2="215.5" y2="86.2"/>
<text class="lb" x="215.5" y="92.5">18</text>
<line class="ln" x1="621" y1="93.7" x2="656" y2="93.7"/>
<text class="lb" x="656" y="100">16</text>
<line class="ln" x1="707.8" y1="103.5" x2="707.8" y2="136"/>
<text class="lb" x="702.5" y="100">3</text>
<line class="ln" x1="389" y1="221.7" x2="424" y2="221.7"/>
<text class="lb" x="424.3" y="228">2</text>
<!-- 17 circle on shield -->
<line class="ln" x1="492.8" y1="98.2" x2="523" y2="115.3"/>
<circle cx="533.4" cy="121.8" r="10.4" fill="#fff" stroke="#000" stroke-width="1.3"/>
<text class="cl" x="533.4" y="127" text-anchor="middle">17</text>
<!-- 9 box -->
<rect class="bx" x="332.75" y="287.5" width="58.5" height="43.25"/>
<line class="ln" x1="313.6" y1="307.8" x2="332.75" y2="307.8"/>
<text class="lb" x="303.5" y="314">9</text>
<line class="ln" x1="354" y1="305" x2="366" y2="312"/>
<circle cx="347.4" cy="300.4" r="10.1" fill="#fff" stroke="#000" stroke-width="1.3"/>
<text class="cl" x="347.4" y="305.6" text-anchor="middle">10</text>
<!-- 7 circle -->
<line class="ln" x1="445" y1="308" x2="456.5" y2="314"/>
<circle cx="436.25" cy="301.5" r="10.1" fill="#fff" stroke="#000" stroke-width="1.3"/>
<text class="cl" x="436.25" y="306.7" text-anchor="middle">7</text>
<!-- 1 box -->
<rect class="bx" x="274.5" y="370.5" width="100" height="162"/>
<line class="ln" x1="374.5" y1="450" x2="399" y2="450"/>
<text class="lb" x="398.5" y="456.4">1</text>
<circle cx="362" cy="494.3" r="10.1" fill="#fff" stroke="#000" stroke-width="1.3"/>
<text class="cl" x="362" y="499.5" text-anchor="middle">10</text>
<!-- 6 -->
<line class="ln" x1="442.1" y1="453" x2="442.1" y2="475"/>
<text class="lb" x="436.8" y="491.4">6</text>
<!-- 15 -->
<line class="ln" x1="552.5" y1="433" x2="552.5" y2="456"/>
<text class="lb" x="542.5" y="473">15</text>
<!-- 4 circle on rotor -->
<line class="ln" x1="690" y1="326" x2="727" y2="344.5"/>
<circle cx="736.9" cy="351.9" r="10.5" fill="#fff" stroke="#000" stroke-width="1.3"/>
<text class="cl" x="736.9" y="357.1" text-anchor="middle">4</text>
<!-- 13, 11 -->
<line class="ln" x1="143" y1="363" x2="143" y2="381"/>
<text class="lb" x="133" y="398">13</text>
<line class="ln" x1="190" y1="391.3" x2="208.6" y2="391.3"/>
<text class="lb" x="170" y="398">11</text>
<!-- 12 circle motor -->
<polyline class="ln" points="242,307.5 242.4,317.5 246.4,322"/>
<circle cx="242" cy="296.7" r="10.5" fill="#fff" stroke="#000" stroke-width="1.3"/>
<text class="cl" x="242" y="302.2" text-anchor="middle">12</text>
<!-- caliper 10, 12 -->
<line class="ln" x1="85" y1="415.5" x2="101" y2="424"/>
<circle cx="75.75" cy="410" r="10.3" fill="#fff" stroke="#000" stroke-width="1.3"/>
<text class="cl" x="75.75" y="415" text-anchor="middle">10</text>
<polyline class="ln" points="121,419 121.5,435 128,439" stroke-dasharray="2,1.5"/>
<circle cx="121" cy="408" r="10.5" fill="#fff" stroke="#000" stroke-width="1.3"/>
<text class="cl" x="121" y="413.2" text-anchor="middle">12</text>
<!-- 8 box -->
<rect class="bx" x="33.6" y="433.6" width="46.4" height="34.1"/>
<line class="ln" x1="80" y1="450" x2="98" y2="450"/>
<line class="ln" x1="56.5" y1="467.7" x2="56.5" y2="484"/>
<text class="lb" x="50.5" y="500">8</text>
<line class="ln" x1="77.5" y1="492.8" x2="98.5" y2="492.8"/>
<text class="lb" x="67" y="500">5</text>
<!-- 14 -->
<line class="ln" x1="243.6" y1="487" x2="243.6" y2="504.5"/>
<text class="lb" x="233.5" y="521">14</text>
<!-- dash-dot line caliper to seal -->
<polyline points="151.5,461.5 159,466 200.25,442.75 255,474.25" fill="none" stroke="#111" stroke-width="1.3" stroke-dasharray="5,2.5,1.5,2.5"/>
<!-- dash-dot carrier to clip -->
<line x1="504" y1="394" x2="538" y2="414" stroke="#111" stroke-width="1.3" stroke-dasharray="5,2.5,1.5,2.5"/>
<line x1="380" y1="318.4" x2="402.5" y2="330.75" stroke="#000" stroke-width="1" stroke-dasharray="2.5,1.5"/>
<!-- bolt boxes -->
<g class="bx">
<rect x="721.2" y="394.3" width="70.5" height="96.4"/>
<line x1="721.2" y1="442.5" x2="791.7" y2="442.5"/>
<rect x="511.25" y="490.5" width="280.45" height="48"/>
<line x1="581.7" y1="490.5" x2="581.7" y2="538.5"/>
<line x1="651.9" y1="490.5" x2="651.9" y2="538.5"/>
<line x1="721.2" y1="490.5" x2="721.2" y2="538.5"/>
</g>
<text class="lb" x="730" y="413">7</text>
<text class="lb" x="730" y="462">4</text>
<text class="lb" x="518" y="508.7">17</text>
<text class="lb" x="586" y="508.7">12</text>
<text class="lb" x="655" y="508.7">10</text>
<!-- arrow icon -->
<polygon points="727.7,533.9 727.7,527.8 765.2,527.8 765.2,533.9" fill="#000"/>
<polygon points="786.6,505.7 786.6,510.4 762.5,524.6 757.2,523.2" fill="#000"/>
<polygon points="727.7,506.4 736.4,511.8 767.2,494.4 786.6,505.7 757.2,523.2 765.2,527.8 727.7,527.8" fill="#fff" stroke="#000" stroke-width="1.1" stroke-linejoin="miter"/>
<text x="738.5" y="553" font-family="Liberation Sans, sans-serif" font-size="13" fill="#333" textLength="42.5" lengthAdjust="spacingAndGlyphs">496627</text>
<text x="7.2" y="554.8" font-family="Liberation Sans, sans-serif" font-size="15" fill="#000" stroke="#000" stroke-width="0.3" textLength="97" lengthAdjust="spacingAndGlyphs">© 2019 BMW AG</text>
</g>
</svg>
</body></html>
